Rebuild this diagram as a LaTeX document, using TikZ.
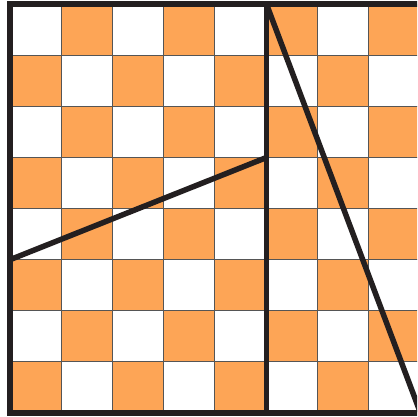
\documentclass[tikz,border=0pt]{standalone}
\definecolor{cellorange}{RGB}{253,165,86}
\definecolor{heavyline}{RGB}{35,31,32}
\definecolor{gridline}{RGB}{85,85,85}
\begin{document}
\begin{tikzpicture}[x=1pt,y=-1pt,
  gridstroke/.style={draw=gridline,line width=1.1pt},
  heavystroke/.style={draw=heavyline,line width=5.5pt,line join=miter}]
\useasboundingbox (0,0) rectangle (417,417);
\fill[white] (0,0) rectangle (417,417);
\begin{scope}
\clip (0,0) rectangle (417,417);
\foreach \r in {0,...,7} {
  \foreach \c in {0,...,7} {
    \pgfmathtruncatemacro\oddcell{mod(\r+\c,2)}
    \ifnum\oddcell=1
      \fill[cellorange] (10+\c*51.2,4.2+\r*51.1) rectangle ++(51.2,51.1);
    \fi
  }
}
\foreach \c in {1,...,8}
  \draw[gridstroke] (10+\c*51.2,4.2) -- (10+\c*51.2,413);
\foreach \r in {1,...,7}
  \draw[gridstroke] (10,4.2+\r*51.1) -- (420,4.2+\r*51.1);
\coordinate (TL) at (10,4.2);
\coordinate (BL) at (10,413);
\coordinate (TR) at (422,4.2);
\coordinate (BR) at (422,413);
\coordinate (TM) at (266.5,4.2);
\coordinate (BM) at (266.5,413);
\coordinate (L3) at (10,259.7);
\coordinate (M5) at (266.5,157.5);
\coordinate (DE) at (420.5,413);
\draw[heavystroke] (TR) -- (TL) -- (BL) -- (BR);
\draw[heavystroke] (TM) -- (BM);
\draw[heavystroke] (L3) -- (M5);
\draw[heavystroke] (TM) -- (DE);
\end{scope}
\end{tikzpicture}
\end{document}
